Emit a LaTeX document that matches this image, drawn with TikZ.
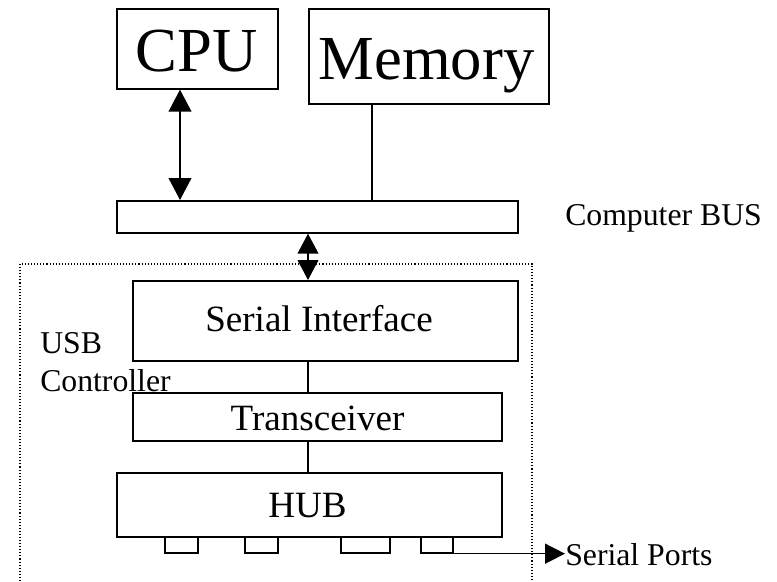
\documentclass[tikz,border=0pt]{standalone}
\usepackage{fontspec}
\setmainfont{Liberation Serif}
\usetikzlibrary{arrows.meta}

\begin{document}
\begin{tikzpicture}[x=0.75pt, y=-0.75pt,
  box/.style={draw, line width=1.25pt, inner sep=0pt, anchor=north west},
  thin/.style={line width=0.8pt},
  bigtxt/.style={inner sep=0pt, anchor=base, font=\fontsize{47pt}{50pt}\selectfont},
  midtxt/.style={inner sep=0pt, anchor=base, font=\fontsize{27.8pt}{30pt}\selectfont},
  smalltxt/.style={inner sep=0pt, anchor=base west, font=\fontsize{23.8pt}{26pt}\selectfont},
  bigdbl/.style={line width=1.5pt, {Triangle[width=17pt,length=16.5pt]}-{Triangle[width=17pt,length=16.5pt]}},
  busdbl/.style={line width=1.5pt, {Triangle[width=15.5pt,length=15pt]}-{Triangle[width=15.5pt,length=15pt]}},
  outarrow/.style={line width=1.2pt, -{Triangle[width=15pt,length=15pt]}},
  usbframe/.style={line width=1pt, dash pattern=on 0.8pt off 1.5pt}
]
\useasboundingbox (0,0) rectangle (777,581);

% host side
\node[box, minimum width=161*0.75pt, minimum height=80*0.75pt] (cpu) at (116,8) {};
\node[box, minimum width=240*0.75pt, minimum height=95*0.75pt] (mem) at (308,8) {};
\node[box, minimum width=401*0.75pt, minimum height=32*0.75pt] (bus) at (116,200) {};

\node[bigtxt] (cpulbl) at (196.5,72) {CPU};
\node[bigtxt] (memlbl) at (426.5,80) {Memory};
\node[smalltxt] (buslbl) at (565,225) {Computer BUS};

% USB controller frame (open at the bottom edge)
\draw[usbframe] (20,581) -- (20,264) -- (532,264) -- (532,581);
\node[smalltxt] (usblbl) at (40,353) {USB};
\node[smalltxt] (ctrllbl) at (40,391) {Controller};

% controller blocks
\node[box, minimum width=385*0.75pt, minimum height=80*0.75pt] (si) at (132,280) {};
\node[box, minimum width=369*0.75pt, minimum height=48*0.75pt] (tr) at (132,392) {};
\node[box, minimum width=385*0.75pt, minimum height=64*0.75pt] (hub) at (116,472) {};

\node[midtxt] (silbl) at (319,331) {Serial Interface};
\node[midtxt] (trlbl) at (317.5,430) {Transceiver};
\node[midtxt] (hublbl) at (307.5,517) {HUB};

% hub ports
\node[box, minimum width=33*0.75pt, minimum height=16*0.75pt] (p1) at (164,536) {};
\node[box, minimum width=33*0.75pt, minimum height=16*0.75pt] (p2) at (244,536) {};
\node[box, minimum width=49*0.75pt, minimum height=16*0.75pt] (p3) at (340,536) {};
\node[box, minimum width=32*0.75pt, minimum height=16*0.75pt] (p4) at (420,536) {};

\node[smalltxt] (splbl) at (565,565) {Serial Ports};

% connectors
\draw[bigdbl] ([xshift=48pt]cpu.south west) -- ([xshift=48pt]cpu.south west |- bus.north);
\draw[thin] ([xshift=48pt]mem.south west) -- ([xshift=48pt]mem.south west |- bus.north);
\draw[busdbl] ([xshift=144pt]bus.south west) -- ([xshift=144pt]bus.south west |- si.north);
\draw[thin] ([xshift=132pt]si.south west) -- ([xshift=132pt]si.south west |- tr.north);
\draw[thin] ([xshift=132pt]tr.south west) -- ([xshift=132pt]tr.south west |- hub.north);
\draw[outarrow] (p4.south east) -- (p4.south east -| splbl.west);
\end{tikzpicture}
\end{document}
